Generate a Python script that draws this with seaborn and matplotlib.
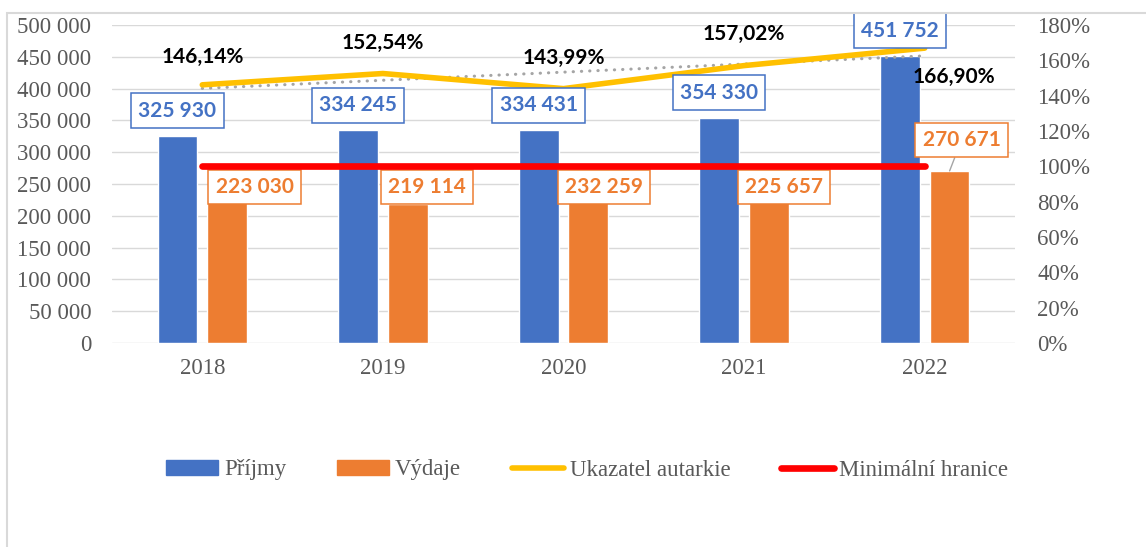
import numpy as np
import pandas as pd
import matplotlib
matplotlib.use("Agg")
import matplotlib.pyplot as plt
import seaborn as sns
from matplotlib.patches import Patch, Rectangle
from matplotlib.lines import Line2D
from matplotlib.ticker import FuncFormatter, MultipleLocator

# data
years = ["2018", "2019", "2020", "2021", "2022"]
prijmy = [325930, 334245, 334431, 354330, 451752]
vydaje = [223030, 219114, 232259, 225657, 270671]
autarkie = [146.14, 152.54, 143.99, 157.02, 166.90]   # %
minimum = [100, 100, 100, 100, 100]                  # %

BLUE = "#4472C4"
ORANGE = "#ED7D31"
YELLOW = "#FFC000"
RED = "#FF0000"
GREY = "#A5A5A5"
TXT = "#595959"

sns.set_theme(style="white")
plt.rcParams["font.family"] = ["Liberation Serif", "DejaVu Serif"]

df = pd.DataFrame({
    "rok": years * 2,
    "hodnota": prijmy + vydaje,
    "serie": ["Příjmy"] * len(years) + ["Výdaje"] * len(years),
})

fig, ax = plt.subplots(figsize=(11.46, 5.47), dpi=100)
ax2 = ax.twinx()
box = [0.0977, 0.3729, 0.788, 0.5814]
ax.set_position(box)
ax2.set_position(box)

sns.barplot(data=df, x="rok", y="hodnota", hue="serie", palette=[BLUE, ORANGE],
            width=0.55, gap=0.2, saturation=1, legend=False, ax=ax, zorder=2)
ax.set_ylim(0, 500000)
ax.set_xlim(-0.5, 4.5)
ax.yaxis.set_major_locator(MultipleLocator(50000))
ax.yaxis.set_major_formatter(FuncFormatter(lambda v, p: f"{v:,.0f}".replace(",", " ")))
ax.grid(axis="y", color="#D9D9D9", lw=1.0, zorder=0)
ax.set_axisbelow(True)
ax.set_xlabel("")
ax.set_ylabel("")
for s in ax.spines.values():
    s.set_visible(False)
ax.tick_params(axis="y", length=0, pad=15, labelsize=16.5, labelcolor=TXT)
ax.tick_params(axis="x", length=0, pad=11, labelsize=16.5, labelcolor=TXT)

pos = np.arange(len(years))

ax2.set_ylim(0, 180)
ax2.yaxis.set_major_locator(MultipleLocator(20))
ax2.yaxis.set_major_formatter(FuncFormatter(lambda v, p: f"{v:.0f}%"))
ax2.tick_params(axis="y", length=0, pad=16, labelsize=16.5, labelcolor=TXT)
for s in ax2.spines.values():
    s.set_visible(False)

sns.regplot(x=pos, y=np.array(autarkie), scatter=False, ci=None, ax=ax2,
            line_kws=dict(color=GREY, lw=2.2, ls=(0, (0.1, 2.6)),
                          dash_capstyle="round", zorder=2))
sns.lineplot(x=pos, y=autarkie, color=YELLOW, lw=4, ax=ax2, zorder=3)
sns.lineplot(x=pos, y=minimum, color=RED, lw=4.8, ax=ax2, zorder=5,
             solid_capstyle="round")
ax2.set_xlim(-0.5, 4.5)
ax2.set_ylim(0, 180)
ax2.set_ylabel("")

label_font = dict(family=["Lato", "DejaVu Sans"], weight="bold", fontsize=15)
bar_off = 0.138

# blue labels above the Příjmy bars
for i, v in enumerate(prijmy):
    ax2.annotate(f"{v:,}".replace(",", " "), xy=(i - bar_off, v), xycoords=ax.transData,
                 xytext=(0, 18), textcoords="offset points", ha="center", va="center",
                 color=BLUE, zorder=6, **label_font,
                 bbox=dict(boxstyle="square,pad=0.35", fc="white", ec=BLUE, lw=1.1))

# orange labels, placed like in the original
orange_dx = [0.152, 0.105, 0.086, 0.083, 0.066]
orange_y = [245300, 245300, 245300, 245300, 319200]
for i, v in enumerate(vydaje):
    arrow = dict(arrowstyle="-", color=GREY, lw=1, shrinkA=0, shrinkB=0) if i == 4 else None
    ax2.annotate(f"{v:,}".replace(",", " "), xy=(i + bar_off, v), xycoords=ax.transData,
                 xytext=(i + bar_off + orange_dx[i], orange_y[i]), textcoords=ax.transData,
                 ha="center", va="center", color=ORANGE, zorder=4, **label_font,
                 arrowprops=arrow,
                 bbox=dict(boxstyle="square,pad=0.35", fc="white", ec=ORANGE, lw=1.1))

# percentage labels
pct_off = [(0, 20), (0, 22), (0, 22), (0, 23), (21, -21)]
for i, v in enumerate(autarkie):
    ax2.annotate(f"{v:.2f}%".replace(".", ","), xy=(i, v), xytext=pct_off[i],
                 textcoords="offset points", ha="center", va="center",
                 color="black", zorder=6, **label_font)

handles = [
    Patch(color=BLUE, label="Příjmy"),
    Patch(color=ORANGE, label="Výdaje"),
    Line2D([], [], color=YELLOW, lw=4, label="Ukazatel autarkie"),
    Line2D([], [], color=RED, lw=4.8, solid_capstyle="round", label="Minimální hranice"),
]
leg = fig.legend(handles=handles, loc="center", bbox_to_anchor=(587 / 1146, 1 - 470 / 547),
                 ncol=4, frameon=False, fontsize=16.5, handlelength=2.3,
                 handleheight=0.65, handletextpad=0.25, columnspacing=2.2)
for t in leg.get_texts():
    t.set_color(TXT)

# chart outline (only left and top edges visible in the crop)
fig.patches.append(Rectangle((7 / 1146, -0.1), 1.2, 1.1 - 13 / 547, transform=fig.transFigure,
                             fill=False, ec="#D9D9D9", lw=1.5, zorder=0))

fig.savefig("out.png", dpi=100)
